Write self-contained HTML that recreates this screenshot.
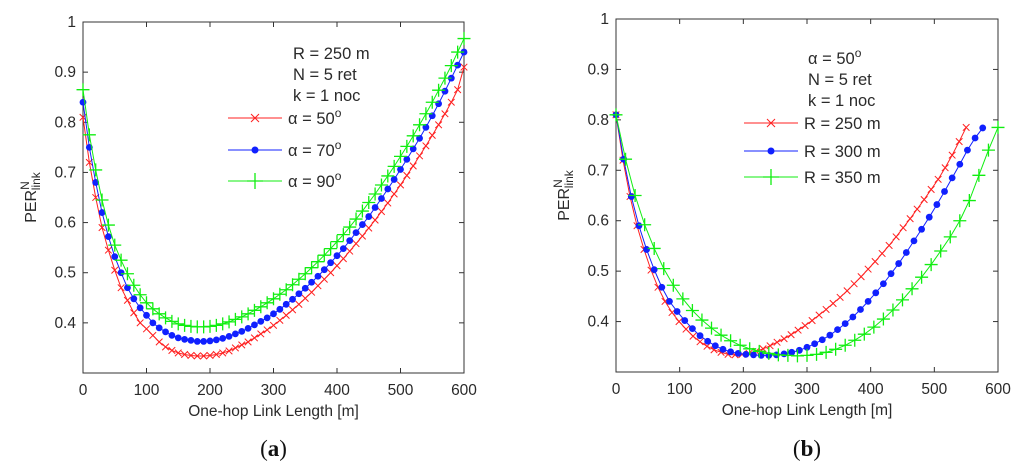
<!DOCTYPE html>
<html><head><meta charset="utf-8"><style>
body{margin:0;background:#fff;}
svg text{font-family:"Liberation Sans",Arial,sans-serif;fill:#2a2a2a;}
</style></head><body>
<svg id="fig" width="1024" height="469" viewBox="0 0 1024 469" xmlns="http://www.w3.org/2000/svg"></svg>
<script>
const xTicks=[0,100,200,300,400,500,600];
const yTicks=[0.4,0.5,0.6,0.7,0.8,0.9,1];
const yTickLabels=["0.4","0.5","0.6","0.7","0.8","0.9","1"];
// Panel (a)
const aX=[0,10,20,30,40,50,60,70,80,90,100,110,120,130,140,150,160,170,180,190,200,210,220,230,240,250,260,270,280,290,300,310,320,330,340,350,360,370,380,390,400,410,420,430,440,450,460,470,480,490,500,510,520,530,540,550,560,570,580,590,600];
const aRed=[0.81,0.72,0.65,0.59,0.545,0.505,0.47,0.445,0.42,0.40,0.388,0.375,0.362,0.352,0.345,0.34,0.337,0.335,0.334,0.334,0.335,0.337,0.34,0.344,0.35,0.356,0.362,0.37,0.378,0.386,0.395,0.405,0.415,0.426,0.437,0.449,0.461,0.474,0.487,0.5,0.514,0.528,0.543,0.558,0.573,0.589,0.605,0.622,0.639,0.657,0.675,0.694,0.713,0.733,0.753,0.774,0.795,0.817,0.84,0.865,0.91];
const aBlue=[0.84,0.75,0.68,0.62,0.572,0.532,0.50,0.47,0.448,0.43,0.415,0.4,0.39,0.382,0.375,0.37,0.367,0.365,0.363,0.363,0.364,0.366,0.369,0.373,0.378,0.383,0.389,0.396,0.403,0.41,0.418,0.427,0.437,0.447,0.458,0.469,0.481,0.493,0.506,0.52,0.534,0.548,0.564,0.58,0.596,0.612,0.63,0.648,0.667,0.686,0.706,0.726,0.747,0.768,0.79,0.813,0.837,0.862,0.888,0.914,0.94];
const aGreen=[0.865,0.775,0.705,0.645,0.595,0.555,0.525,0.498,0.475,0.456,0.44,0.428,0.418,0.41,0.403,0.398,0.395,0.393,0.392,0.392,0.393,0.395,0.398,0.402,0.407,0.412,0.418,0.425,0.432,0.44,0.448,0.457,0.466,0.476,0.487,0.498,0.51,0.522,0.535,0.548,0.562,0.576,0.591,0.607,0.623,0.64,0.657,0.675,0.693,0.712,0.732,0.752,0.773,0.795,0.817,0.84,0.864,0.888,0.913,0.94,0.967];
// Panel (b)
const bRedX=[0,11,22,33,44,55,66,77,88,99,110,121,132,143,154,165,176,187,198,209,220,231,242,253,264,275,286,297,308,319,330,341,352,363,374,385,396,407,418,429,440,451,462,473,484,495,506,517,528,539,550];
const bRed=[0.81,0.72,0.648,0.59,0.543,0.502,0.468,0.44,0.418,0.40,0.385,0.371,0.36,0.351,0.344,0.339,0.335,0.334,0.335,0.337,0.341,0.346,0.352,0.359,0.366,0.374,0.383,0.392,0.402,0.413,0.424,0.436,0.448,0.461,0.475,0.489,0.504,0.519,0.535,0.551,0.568,0.586,0.604,0.623,0.642,0.662,0.682,0.705,0.73,0.757,0.785];
const bBlueX=[0,12,24,36,48,60,72,84,96,108,120,132,144,156,168,180,192,204,216,228,240,252,264,276,288,300,312,324,336,348,360,372,384,396,408,420,432,444,456,468,480,492,504,516,528,540,552,564,576];
const bBlue=[0.81,0.722,0.648,0.59,0.543,0.503,0.468,0.44,0.42,0.402,0.386,0.372,0.361,0.352,0.345,0.34,0.337,0.335,0.334,0.333,0.333,0.334,0.336,0.339,0.343,0.349,0.356,0.364,0.373,0.384,0.396,0.409,0.424,0.44,0.457,0.475,0.495,0.515,0.537,0.56,0.583,0.607,0.632,0.658,0.685,0.712,0.74,0.764,0.784];
const bGreenX=[0,15,30,45,60,75,90,105,120,135,150,165,180,195,210,225,240,255,270,285,300,315,330,345,360,375,390,405,420,435,450,465,480,495,510,525,540,555,570,585,600];
const bGreen=[0.81,0.722,0.65,0.592,0.545,0.505,0.472,0.445,0.422,0.403,0.387,0.373,0.362,0.353,0.346,0.341,0.337,0.334,0.333,0.332,0.333,0.335,0.339,0.345,0.353,0.363,0.375,0.389,0.405,0.423,0.443,0.465,0.488,0.513,0.54,0.568,0.6,0.64,0.69,0.74,0.785];

const NS="http://www.w3.org/2000/svg";
const svg=document.getElementById('fig');
function el(tag,attrs,parent){const e=document.createElementNS(NS,tag);for(const k in attrs)e.setAttribute(k,attrs[k]);(parent||svg).appendChild(e);return e;}

function panel(p){
  const g=el('g',{});
  
  
  const sx=v=>p.L+(v-0)/(600-0)*(p.R-p.L);
  const sy=v=>p.B-(v-0.3)/(1-0.3)*(p.B-p.T);
  const box=el('rect',{x:p.L,y:p.T,width:p.R-p.L,height:p.B-p.T,fill:'none',stroke:'#333','stroke-width':1},g);
  
  
  xTicks.forEach(t=>{
    const x=sx(t);
    el('line',{x1:x,y1:p.B,x2:x,y2:p.B-5,stroke:'#333'},g);
    el('line',{x1:x,y1:p.T,x2:x,y2:p.T+5,stroke:'#333'},g);
    const tx=el('text',{x:x,y:p.B+22,'text-anchor':'middle','font-size':15.5},g);
    tx.textContent=t;
    
    
  });
  yTicks.forEach((t,i)=>{
    const y=sy(t);
    el('line',{x1:p.L,y1:y,x2:p.L+5,y2:y,stroke:'#333'},g);
    el('line',{x1:p.R,y1:y,x2:p.R-5,y2:y,stroke:'#333'},g);
    const ty=el('text',{x:p.L-7,y:y+5,'text-anchor':'end','font-size':15.5},g);
    ty.textContent=yTickLabels[i];
    
    
  });
  const xl=el('text',{x:(p.L+p.R)/2,y:p.B+43,'text-anchor':'middle','font-size':15.5},g);
  xl.textContent='One-hop Link Length [m]';
  
  
  const yl=el('text',{transform:`translate(${p.L-47},${(p.T+p.B)/2}) rotate(-90)`,'text-anchor':'middle','font-size':16},g);
  yl.innerHTML='PER<tspan font-size="12" dy="-7">N</tspan><tspan font-size="12" dx="-9" dy="11">link</tspan>';
  
  
  p.series.forEach(s=>{
    const sg=el('g',{},g);
    
    
    el('polyline',{points:s.x.map((v,i)=>sx(v)+','+sy(s.y[i])).join(' '),fill:'none',stroke:s.c,'stroke-width':1},sg);
    s.x.forEach((v,i)=>marker(sg,s.m,sx(v),sy(s.y[i]),s.c));
  });
  p.notes.forEach((n,i)=>{
    const t=el('text',{x:p.noteX,y:p.noteY+i*21,'font-size':16.5},g);
    t.innerHTML=n;
    
    
  });
  p.series.forEach((s,i)=>{
    const lg=el('g',{},g);
    
    
    const y=p.legY[i];
    el('line',{x1:p.legX,y1:y,x2:p.legX+54,y2:y,stroke:s.c},lg);
    marker(lg,s.m,p.legX+27,y,s.c,true);
    const t=el('text',{x:p.legX+60,y:y+6,'font-size':16.5},lg);
    t.innerHTML=s.label;
  });
  const cap=el('text',{x:(p.L+p.R)/2,y:456,'text-anchor':'middle','font-size':23,style:'fill:#111;font-family:"Liberation Serif",serif'},g);
  cap.innerHTML='(<tspan font-weight="bold">'+p.cap+'</tspan>)';
  
  
}
function marker(g,m,x,y,c,big){
  const r=big?4:3.3;
  if(m==='x'){el('path',{d:`M${x-r} ${y-r}L${x+r} ${y+r}M${x-r} ${y+r}L${x+r} ${y-r}`,stroke:c,'stroke-width':1,fill:'none'},g);}
  else if(m==='o'){el('circle',{cx:x,cy:y,r:big?3.5:3.4,fill:c},g);}
  else {const r2=big?8:6.5;el('path',{d:`M${x-r2} ${y}L${x+r2} ${y}M${x} ${y-r2}L${x} ${y+r2}`,stroke:c,'stroke-width':1.3,fill:'none'},g);}
}
panel({name:'chart-a',cap:'a',L:83,R:464,T:22,B:373,
  series:[{name:'series-alpha-50',x:aX,y:aRed,c:'#ff2020',m:'x',label:'α = 50<tspan font-size="12" dy="-7">o</tspan>'},
          {name:'series-alpha-70',x:aX,y:aBlue,c:'#1020ff',m:'o',label:'α = 70<tspan font-size="12" dy="-7">o</tspan>'},
          {name:'series-alpha-90',x:aX,y:aGreen,c:'#10ee10',m:'+',label:'α = 90<tspan font-size="12" dy="-7">o</tspan>'}],
  notes:['R = 250 m','N = 5 ret','k = 1 noc'],noteX:293,noteY:59,legX:228,legY:[118,150,181]});
panel({name:'chart-b',cap:'b',L:616,R:998,T:19,B:372,
  series:[{name:'series-r-250',x:bRedX,y:bRed,c:'#ff2020',m:'x',label:'R = 250 m'},
          {name:'series-r-300',x:bBlueX,y:bBlue,c:'#1020ff',m:'o',label:'R = 300 m'},
          {name:'series-r-350',x:bGreenX,y:bGreen,c:'#10ee10',m:'+',label:'R = 350 m'}],
  notes:['α = 50<tspan font-size="12" dy="-7">o</tspan>','N = 5 ret','k = 1 noc'],noteX:808,noteY:64,legX:744,legY:[123,151,177]});
</script>
</body></html>
